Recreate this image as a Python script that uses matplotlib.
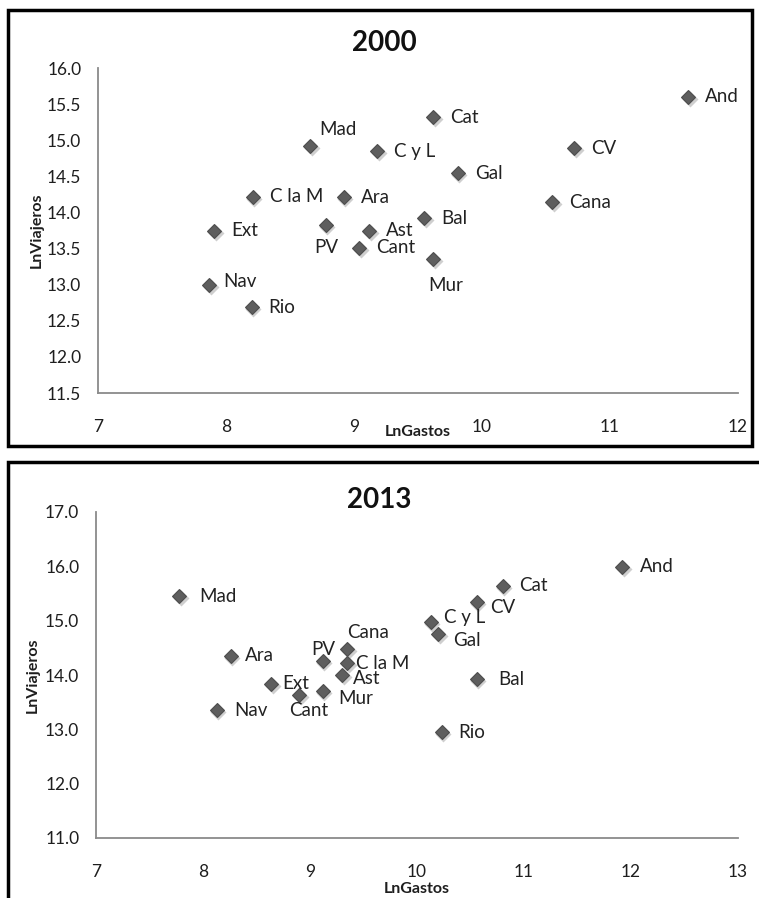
import matplotlib
matplotlib.use("Agg")
import matplotlib.pyplot as plt
import matplotlib.patches as patches
from matplotlib.transforms import ScaledTranslation

plt.rcParams['font.family'] = ['Lato', 'DejaVu Sans']

# data
regions = ["And", "Ara", "Ast", "Bal", "Cana", "Cant", "C la M", "C y L", "Cat",
           "CV", "Ext", "Gal", "Mad", "Mur", "Nav", "PV", "Rio"]
gastos_2000 = [11.61, 8.92, 9.12, 9.55, 10.55, 9.04, 8.21, 9.18, 9.62,
               10.72, 7.91, 9.81, 8.66, 9.62, 7.87, 8.78, 8.20]
viajeros_2000 = [15.60, 14.21, 13.75, 13.92, 14.14, 13.51, 14.22, 14.85, 15.32,
                 14.89, 13.75, 14.54, 14.92, 13.36, 12.99, 13.83, 12.69]
gastos_2013 = [11.92, 8.26, 9.30, 10.56, 9.35, 8.90, 9.35, 10.13, 10.80,
               10.56, 8.64, 10.20, 7.78, 9.12, 8.13, 9.12, 10.23]
viajeros_2013 = [15.99, 14.35, 14.00, 13.92, 14.48, 13.63, 14.22, 14.97, 15.64,
                 15.34, 13.83, 14.75, 15.45, 13.70, 13.35, 14.26, 12.95]

xticks_2000 = [7, 8, 9, 10, 11, 12]
yticks_2000 = [11.5, 12.0, 12.5, 13.0, 13.5, 14.0, 14.5, 15.0, 15.5, 16.0]
xticks_2013 = [7, 8, 9, 10, 11, 12, 13]
yticks_2013 = [11.0, 12.0, 13.0, 14.0, 15.0, 16.0, 17.0]

# label placement (pixels: dx, dy up, ha)
DEFAULT_OFF = (17, 0, 'left')
label_off_2000 = {
    "Mur": (12, -27, 'center'),
    "PV": (0, -23, 'center'),
    "Mad": (9, 17, 'left'),
    "Nav": (14, 4, 'left'),
}
label_off_2013 = {
    "Ara": (14, 0, 'left'),
    "Ext": (11, 1, 'left'),
    "Cant": (9, -15, 'center'),
    "PV": (0, 11, 'center'),
    "Mur": (15, -7, 'left'),
    "Cana": (0, 16, 'left'),
    "C la M": (9, 0, 'left'),
    "Ast": (11, -4, 'left'),
    "C y L": (13, 5, 'left'),
    "Gal": (15, -6, 'left'),
    "CV": (13, -5, 'left'),
    "Bal": (21, 0, 'left'),
    "Mad": (20, 0, 'left'),
}

W, H = 759, 898
fig = plt.figure(figsize=(W / 100, H / 100), dpi=100, facecolor='white')

def px_rect(x0, y0, x1, y1):
    """Figure-fraction rect from pixel box (y measured from top)."""
    return [x0 / W, 1 - y1 / H, (x1 - x0) / W, (y1 - y0) / H]

def draw_panel(rect, xs, ys, xticks, yticks, offsets, title, title_xy, ylab_x, xlab_y):
    ax = fig.add_axes(px_rect(*rect))
    ax.set_facecolor('none')
    ax.set_xlim(xticks[0], xticks[-1])
    ax.set_ylim(yticks[0], yticks[-1])
    ax.set_xticks(xticks)
    ax.set_yticks(yticks)
    ax.set_xticklabels([str(t) for t in xticks])
    ax.set_yticklabels([f"{t:.1f}" for t in yticks])
    for s in ('top', 'right'):
        ax.spines[s].set_visible(False)
    for s in ('left', 'bottom'):
        ax.spines[s].set_color('#8a8a8a')
        ax.spines[s].set_linewidth(1.3)
    ax.tick_params(axis='both', length=0, labelsize=12.5, colors='#1e1e1e')
    ax.tick_params(axis='x', pad=19)
    ax.tick_params(axis='y', pad=12)

    # soft shadow then diamonds
    shadow = ax.transData + ScaledTranslation(1.5 / 100, -2 / 100, fig.dpi_scale_trans)
    ax.plot(xs, ys, 'D', ms=8, color='#b0b0b0', alpha=0.6, mec='none',
            transform=shadow, clip_on=False)
    ax.plot(xs, ys, 'D', ms=7.5, mfc='#5e5e5e', mec='#4d4d4d', mew=0.8,
            clip_on=False)

    for name, x, y in zip(regions, xs, ys):
        dx, dy, ha = offsets.get(name, DEFAULT_OFF)
        ax.annotate(name, (x, y), xytext=(dx, dy), textcoords='offset pixels',
                    ha=ha, va='center', fontsize=13.5, color='#222222')

    ax.set_xlabel('LnGastos', fontsize=11.5, fontweight='bold', color='#1e1e1e')
    ax.xaxis.set_label_coords(0.5, xlab_y)
    ax.xaxis.label.set_va('center')
    ax.set_ylabel('LnViajeros', fontsize=11.5, fontweight='bold', color='#1e1e1e')
    ax.yaxis.set_label_coords(ylab_x, 0.5)
    ax.yaxis.label.set_va('center')

    fig.text(title_xy[0] / W, 1 - title_xy[1] / H, title, ha='center', va='center',
             fontsize=20, fontweight='bold', color='#111111')
    return ax

draw_panel((98, 68, 738, 393), gastos_2000, viajeros_2000, xticks_2000, yticks_2000,
           label_off_2000, '2000', (384, 43), -0.095, -0.12)
draw_panel((96, 512, 738, 838), gastos_2013, viajeros_2013, xticks_2013, yticks_2013,
           label_off_2013, '2013', (379, 500), -0.098, -0.155)

# black frames around the panels
fig.patches.append(patches.Rectangle((8 / W, 1 - 446 / H), 744 / W, 436 / H,
                                     transform=fig.transFigure, fill=False,
                                     edgecolor='black', linewidth=2.5))
fig.patches.append(patches.Rectangle((8 / W, -0.05), 0.999, (1 - 462 / H) + 0.05,
                                     transform=fig.transFigure, fill=False,
                                     edgecolor='black', linewidth=2.5))

fig.savefig('out.png', dpi=100, facecolor='white')
